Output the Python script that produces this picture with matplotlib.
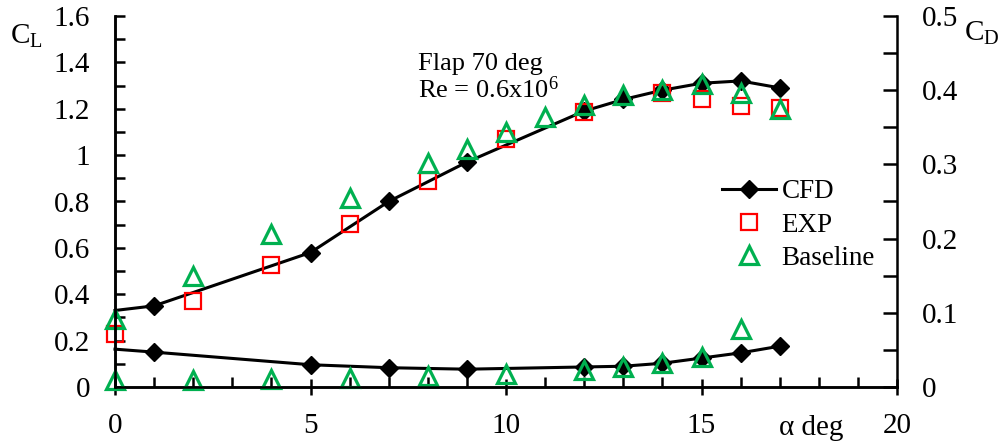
import numpy as np
import matplotlib.pyplot as plt
from matplotlib.ticker import MultipleLocator

plt.rcParams['font.family'] = ['Liberation Serif', 'DejaVu Serif']
plt.rcParams['mathtext.fontset'] = 'custom'
plt.rcParams['mathtext.rm'] = 'Liberation Serif'
plt.rcParams['mathtext.it'] = 'Liberation Serif'

# lift coefficient
cfd_alpha = [0, 1, 5, 7, 9, 12, 13, 14, 15, 16, 17]
cfd_cl = [0.33, 0.35, 0.58, 0.80, 0.97, 1.19, 1.24, 1.28, 1.31, 1.32, 1.29]
exp_alpha = [0, 2, 4, 6, 8, 10, 12, 14, 15, 16, 17]
exp_cl = [0.23, 0.37, 0.525, 0.705, 0.89, 1.07, 1.185, 1.27, 1.24, 1.21, 1.205]
base_alpha = [0, 2, 4, 6, 8, 9, 10, 11, 12, 13, 14, 15, 16, 17]
base_cl = [0.295, 0.48, 0.66, 0.815, 0.965, 1.025, 1.10, 1.165, 1.215, 1.26, 1.28, 1.305, 1.27, 1.20]

# drag coefficient
cfd_cd = [0.051, 0.047, 0.030, 0.026, 0.024, 0.027, 0.028, 0.032, 0.039, 0.046, 0.055]
base_cd_alpha = [0, 2, 4, 6, 8, 10, 12, 13, 14, 15, 16]
base_cd = [0.009, 0.010, 0.011, 0.012, 0.015, 0.0175, 0.023, 0.027, 0.032, 0.040, 0.078]

green = '#00B050'
red = '#FF0000'

fig = plt.figure(figsize=(10.03, 4.44), dpi=100)
ax = fig.add_axes([115 / 1003, 1 - 387 / 444, (897 - 115) / 1003, (387 - 16) / 444])
ax2 = ax.twinx()

# CFD curve starts at the axis without a marker
cfd_style = dict(color='black', lw=2.2, marker='D', markersize=9.5, clip_on=False,
                 markevery=list(range(1, len(cfd_alpha))))
sq_style = dict(ls='none', marker='s', markersize=11, mfc='none', mec=red, mew=1.6, clip_on=False)
tri_style = dict(ls='none', marker='^', markersize=13, mfc='none', mec=green, mew=2.3, clip_on=False)

h1, = ax.plot(cfd_alpha, cfd_cl, label='CFD', **cfd_style)
h2, = ax.plot(exp_alpha, exp_cl, label='EXP', **sq_style)
h3, = ax.plot(base_alpha, base_cl, label='Baseline', **tri_style)

ax2.plot(cfd_alpha, cfd_cd, **cfd_style)
ax2.plot(base_cd_alpha, base_cd, **tri_style)

ax.set_xlim(0, 20)
ax.set_ylim(0, 1.6)
ax2.set_ylim(0, 0.5)

ax.xaxis.set_major_locator(MultipleLocator(5))
ax.xaxis.set_minor_locator(MultipleLocator(1))
ax.yaxis.set_major_locator(MultipleLocator(0.2))
ax.yaxis.set_minor_locator(MultipleLocator(0.1))
ax2.yaxis.set_major_locator(MultipleLocator(0.1))
ax2.yaxis.set_minor_locator(MultipleLocator(0.05))
ax.yaxis.set_major_formatter(plt.FuncFormatter(lambda v, p: f'{v:g}'))
ax2.yaxis.set_major_formatter(plt.FuncFormatter(lambda v, p: f'{v:g}'))

for a in (ax, ax2):
    a.spines['top'].set_visible(False)
    for s in a.spines.values():
        s.set_linewidth(1.8)
ax.spines['right'].set_visible(False)

ax.tick_params(axis='x', which='major', direction='inout', length=11, width=1.8, labelsize=21, pad=13)
ax.tick_params(axis='x', which='minor', direction='in', length=7, width=1.8)
ax.tick_params(axis='y', which='both', direction='in', length=7, width=1.8, labelsize=21, pad=18)
ax2.tick_params(axis='y', which='both', direction='in', length=10, width=1.8, labelsize=21, pad=18)

fig.text(10 / 1003, 1 - 36 / 444, r'C$_\mathrm{L}$', fontsize=21, va='center', ha='left')
fig.text(964 / 1003, 1 - 33 / 444, r'C$_\mathrm{D}$', fontsize=21, va='center', ha='left')
ax.text(17.8, -0.177, 'α deg', fontsize=21, ha='center', va='center', clip_on=False)

ax.text(7.75, 1.367, 'Flap 70 deg', fontsize=19, ha='left', va='baseline')
ax.text(7.75, 1.246, 'Re = 0.6x10$^6$', fontsize=19, ha='left', va='baseline')

ax2.legend([h1, h2, h3], ['CFD', 'EXP', 'Baseline'], loc='center left',
           bbox_to_anchor=(722 / 1003, 1 - 225 / 444), bbox_transform=fig.transFigure,
           frameon=False, fontsize=19.5, handlelength=2.0, handletextpad=0.2,
           labelspacing=0.3, borderpad=0, borderaxespad=0)

fig.savefig('out.png', dpi=100)
